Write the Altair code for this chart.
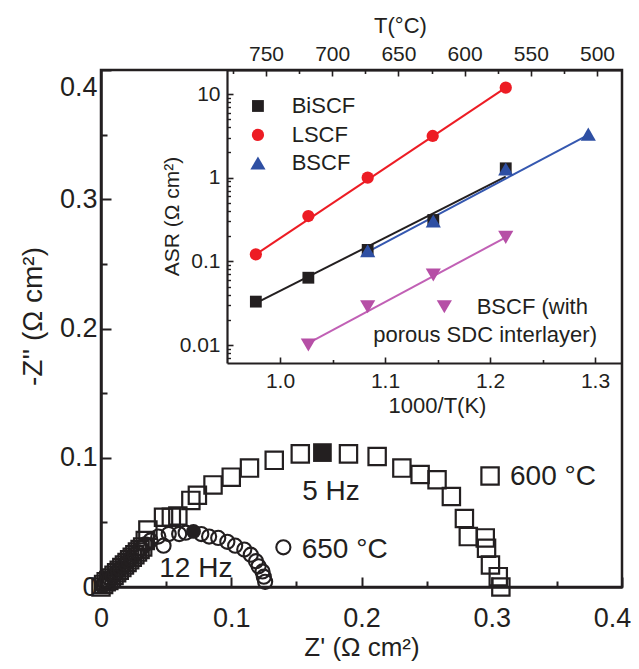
import altair as alt
import pandas as pd

FONT = "Liberation Sans"
INK = "#231f20"

# ---------------- main Nyquist plot ----------------
z600_re = [0.000, 0.002, 0.004, 0.006, 0.008, 0.010, 0.012, 0.014, 0.016, 0.018, 0.020,
           0.022, 0.024, 0.026, 0.028, 0.030, 0.032, 0.034, 0.036,
           0.048, 0.054, 0.059, 0.069, 0.074, 0.086, 0.100, 0.114, 0.133, 0.153,
           0.190, 0.212, 0.231, 0.245, 0.258, 0.269, 0.279, 0.282, 0.295, 0.296,
           0.299, 0.305, 0.307]
z600_im = [0.000, 0.002, 0.004, 0.005, 0.007, 0.009, 0.011, 0.013, 0.015, 0.017, 0.019,
           0.021, 0.023, 0.025, 0.027, 0.029, 0.031, 0.036, 0.044,
           0.054, 0.054, 0.055, 0.067, 0.071, 0.079, 0.085, 0.092, 0.098, 0.103,
           0.103, 0.101, 0.092, 0.087, 0.083, 0.070, 0.053, 0.039, 0.038, 0.030,
           0.017, 0.008, 0.000]
z600_peak_re = [0.170]
z600_peak_im = [0.104]

z650_re = [0.001, 0.002, 0.003, 0.005, 0.007, 0.009, 0.011, 0.013, 0.015, 0.017, 0.019,
           0.021, 0.023, 0.026, 0.028, 0.031, 0.034, 0.038, 0.044, 0.048, 0.052, 0.060,
           0.065, 0.077, 0.083, 0.090, 0.097, 0.103, 0.110, 0.115, 0.119, 0.121, 0.124,
           0.125, 0.126]
z650_im = [0.001, 0.002, 0.003, 0.005, 0.006, 0.008, 0.010, 0.012, 0.014, 0.016, 0.018,
           0.020, 0.022, 0.025, 0.027, 0.030, 0.033, 0.036, 0.039, 0.032, 0.041, 0.041,
           0.042, 0.041, 0.039, 0.038, 0.035, 0.032, 0.029, 0.025, 0.020, 0.016, 0.012,
           0.008, 0.004]
z650_peak_re = [0.071]
z650_peak_im = [0.043]

main_major = [0.0, 0.1, 0.2, 0.3, 0.4]
main_minor = [0.05, 0.15, 0.25, 0.35]

# annotations of the main plot
center_text = ["5 Hz", "12 Hz"]
center_re = [0.1766, 0.0728]
center_im = [0.0673, 0.0080]
left_text = ["650 °C", "600 °C"]
left_re = [0.1541, 0.3140]
left_im = [0.0222, 0.0789]
key600_re, key600_im = [0.2987], [0.0859]
key650_re, key650_im = [0.1400], [0.0307]

# ---------------- inset: ASR vs 1000/T ----------------
series = ["BiSCF", "LSCF", "BSCF", "SDC"]
invT = {
    "BiSCF": [0.977, 1.027, 1.0835, 1.146, 1.215],
    "LSCF": [0.977, 1.027, 1.0835, 1.1454, 1.215],
    "BSCF": [1.0835, 1.146, 1.215, 1.2936],
    "SDC": [1.027, 1.0835, 1.146, 1.215],
}
asr = {
    "BiSCF": [0.0330, 0.0637, 0.137, 0.312, 1.294],
    "LSCF": [0.1213, 0.348, 1.00, 3.15, 11.9],
    "BSCF": [0.134, 0.303, 1.27, 3.32],
    "SDC": [0.0100, 0.0287, 0.0687, 0.1936],
}
fit_invT = {
    "BiSCF": [0.977, 1.215],
    "LSCF": [0.977, 1.215],
    "BSCF": [1.0835, 1.2936],
    "SDC": [1.027, 1.215],
}
fit_asr = {
    "BiSCF": [0.0316, 1.027],
    "LSCF": [0.1213, 11.9],
    "BSCF": [0.130, 3.24],
    "SDC": [0.0105, 0.1936],
}
colors = {"BiSCF": INK, "LSCF": "#ed1c24", "BSCF": "#2e4fa3", "SDC": "#b64fa6"}
line_colors = {"BiSCF": INK, "LSCF": "#ed1c24", "BSCF": "#3558b0", "SDC": "#c160b5"}
shapes = {"BiSCF": "square", "LSCF": "circle", "BSCF": "triangle-up", "SDC": "triangle-down"}
sizes = {"BiSCF": 140, "LSCF": 150, "BSCF": 230, "SDC": 230}

legend_series = ["BiSCF", "LSCF", "BSCF", "SDC"]
legend_mx = [0.979, 0.979, 0.979, 1.1565]
legend_my = [7.19, 3.24, 1.497, 0.0287]
legend_text = ["BiSCF", "LSCF", "BSCF", "BSCF (with", "porous SDC interlayer)"]
legend_tx = [1.0111, 1.0111, 1.0111, 1.1873, 1.0888]
legend_ty = [7.19, 3.24, 1.497, 0.0287, 0.01318]

invT_major = [1.0, 1.1, 1.2, 1.3]
invT_minor = [1.05, 1.15, 1.25]
T_major = [500, 550, 600, 650, 700, 750]
T_minor = [525, 575, 625, 675, 725, 775]
asr_major = [0.01, 0.1, 1, 10]
asr_minor = [0.007, 0.008, 0.009, 0.02, 0.03, 0.04, 0.05, 0.06, 0.07, 0.08, 0.09,
             0.2, 0.3, 0.4, 0.5, 0.6, 0.7, 0.8, 0.9, 2, 3, 4, 5, 6, 7, 8, 9]

# ---------------- geometry ----------------
W, H = 521, 517
IN_X = [126, W]
IN_Y = [293, 0]

main_xs = alt.Scale(domain=[0, 0.4], range=[0, W], nice=False, zero=False)
main_ys = alt.Scale(domain=[0, 0.4], range=[H, 0], nice=False, zero=False)
in_xs = alt.Scale(domain=[0.94952, 1.32571], range=IN_X, nice=False, zero=False)
in_ys = alt.Scale(type="log", domain=[0.006094, 19.36], range=IN_Y, nice=False)
top_xs = alt.Scale(domain=[481.12, 779.46], range=[W, 126], nice=False, zero=False)

# label-carrying axes; their (major) ticks point inward through a negative size expression
ax_main_x = alt.Axis(
    orient="bottom", title="Z' (Ω cm²)", values=main_major, format=".1~f",
    tickSize=alt.ExprRef(expr="-10"), tickWidth=2,
    domainWidth=2.5, labelFontSize=27, labelPadding=49, labelBaseline="alphabetic",
    labelOffset={"condition": {"test": "datum.value > 0.39", "value": -10}, "value": 0},
    titleFontSize=26, titleY=68, titleBaseline="alphabetic",
)
ax_main_y = alt.Axis(
    orient="left", title="-Z'' (Ω cm²)", values=main_major, format=".1~f",
    tickSize=alt.ExprRef(expr="-10"), tickWidth=2,
    domainWidth=2.5, labelFontSize=27, labelPadding=14, labelBaseline="middle",
    labelOffset={"condition": {"test": "datum.value > 0.39", "value": 17}, "value": 0},
    titleFontSize=28, titleX=-60, titleY=246, titleBaseline="alphabetic",
)
ax_in_x = alt.Axis(
    orient="bottom", offset=-(H - IN_Y[0]), title="1000/T(K)", values=invT_major, format=".1f",
    tickSize=alt.ExprRef(expr="-6"), tickWidth=1.6,
    domainWidth=2.2, labelFontSize=21, labelPadding=30, labelBaseline="alphabetic",
    titleFontSize=22, titleX=336, titleY=42, titleBaseline="middle",
)
ax_in_y = alt.Axis(
    orient="left", offset=-IN_X[0], title="ASR (Ω cm²)", values=asr_major, format="~g",
    tickSize=alt.ExprRef(expr="-6"), tickWidth=1.6,
    domainWidth=2.2, labelFontSize=21, labelPadding=13, labelBaseline="middle",
    titleFontSize=21, titleX=-55, titleY=146, titleBaseline="middle",
)
ax_top = alt.Axis(
    orient="top", title="T(°C)", values=T_major, format="d",
    tickSize=alt.ExprRef(expr="-6"), tickWidth=1.6,
    domainWidth=2.2, labelFontSize=21, labelPadding=16, labelBaseline="alphabetic",
    titleFontSize=22, titleX=299, titleY=-45, titleBaseline="middle",
)


def mx(axis=None):
    return alt.X("re:Q", scale=main_xs, axis=axis)


def my(axis=None):
    return alt.Y("im:Q", scale=main_ys, axis=axis)


def ix(axis=None):
    return alt.X("x:Q", scale=in_xs, axis=axis)


def iy(axis=None):
    return alt.Y("y:Q", scale=in_ys, axis=axis)


def tick_layer(channel, scale, values, orient, offset, size, width):
    """Invisible marks carrying an extra axis (opposite side, shifted) whose ticks point inward."""
    axis = alt.Axis(orient=orient, offset=offset, values=values, labels=False,
                    domain=True, domainOpacity=0, ticks=True, tickSize=size, tickWidth=width,
                    tickColor=INK, title=" ", titleOpacity=0, titleFontSize=1, grid=False)
    df = pd.DataFrame({"v": values})
    if channel == "x":
        enc = dict(x=alt.X("v:Q", scale=scale, axis=axis))
    else:
        enc = dict(y=alt.Y("v:Q", scale=scale, axis=axis))
    return alt.Chart(df).mark_point(opacity=0).encode(**enc)


layers = []

# ---------------- main layers ----------------
df600 = pd.DataFrame({"re": z600_re, "im": z600_im})
df650 = pd.DataFrame({"re": z650_re, "im": z650_im})
df600p = pd.DataFrame({"re": z600_peak_re, "im": z600_peak_im})
df650p = pd.DataFrame({"re": z650_peak_re, "im": z650_peak_im})
dfk600 = pd.DataFrame({"re": key600_re, "im": key600_im})
dfk650 = pd.DataFrame({"re": key650_re, "im": key650_im})
dfc = pd.DataFrame({"re": center_re, "im": center_im, "t": center_text})
dfl = pd.DataFrame({"re": left_re, "im": left_im, "t": left_text})

sq_style = dict(shape="square", filled=False, size=300, strokeWidth=2.2, color=INK, opacity=1)
ci_style = dict(shape="circle", filled=False, size=200, strokeWidth=2.1, color=INK, opacity=1)

layers += [
    alt.Chart(df600).mark_point(**sq_style).encode(x=mx(ax_main_x), y=my(ax_main_y)),
    alt.Chart(df650).mark_point(**ci_style).encode(x=mx(), y=my()),
    alt.Chart(df600p).mark_point(shape="square", filled=True, size=350, color=INK, opacity=1).encode(x=mx(), y=my()),
    alt.Chart(df650p).mark_point(shape="circle", filled=True, size=220, color=INK, opacity=1).encode(x=mx(), y=my()),
    alt.Chart(dfk600).mark_point(**sq_style).encode(x=mx(), y=my()),
    alt.Chart(dfk650).mark_point(**ci_style).encode(x=mx(), y=my()),
    alt.Chart(dfc).mark_text(font=FONT, fontSize=28, color=INK, align="center", baseline="alphabetic").encode(
        x=mx(), y=my(), text="t:N"),
    alt.Chart(dfl).mark_text(font=FONT, fontSize=28, color=INK, align="left", baseline="alphabetic").encode(
        x=mx(), y=my(), text="t:N"),
]

# minor inward ticks of the main plot
layers += [
    tick_layer("x", main_xs, main_minor, "top", -H, 6, 2),
    tick_layer("y", main_ys, main_minor, "right", -W, 6, 2),
]

# ---------------- inset layers ----------------
for i, s in enumerate(series):
    d = pd.DataFrame({"x": fit_invT[s], "y": fit_asr[s]})
    enc = dict(x=ix(ax_in_x), y=iy(ax_in_y)) if i == 0 else dict(x=ix(), y=iy())
    layers.append(alt.Chart(d).mark_line(color=line_colors[s], strokeWidth=2).encode(**enc))
for s in series:
    d = pd.DataFrame({"x": invT[s], "y": asr[s]})
    layers.append(
        alt.Chart(d).mark_point(shape=shapes[s], filled=True, size=sizes[s], color=colors[s], opacity=1)
        .encode(x=ix(), y=iy()))
for s, lx, ly in zip(legend_series, legend_mx, legend_my):
    d = pd.DataFrame({"x": [lx], "y": [ly]})
    layers.append(
        alt.Chart(d).mark_point(shape=shapes[s], filled=True, size=sizes[s], color=colors[s], opacity=1)
        .encode(x=ix(), y=iy()))
dft = pd.DataFrame({"x": legend_tx, "y": legend_ty, "t": legend_text})
layers.append(
    alt.Chart(dft).mark_text(font=FONT, fontSize=22, color=INK, align="left", baseline="middle")
    .encode(x=ix(), y=iy(), text="t:N"))

# minor inward ticks of the inset
layers += [
    tick_layer("x", in_xs, invT_minor, "top", -IN_Y[0], 3.5, 1.6),
    tick_layer("y", in_ys, asr_minor, "right", -(W - IN_X[0]), 3.5, 1.4),
]

# ---------------- top temperature axis ----------------
layers.append(
    alt.Chart(pd.DataFrame({"T": T_major})).mark_point(opacity=0).encode(
        x=alt.X("T:Q", scale=top_xs, axis=ax_top)))
layers.append(tick_layer("x", top_xs, T_minor, "bottom", -H, 3.5, 1.6))

chart = (
    alt.layer(*layers)
    .resolve_scale(x="independent", y="independent")
    .resolve_axis(x="independent", y="independent")
    .properties(width=W, height=H, autosize=alt.AutoSizeParams(type="none"),
                padding={"left": 93, "top": 62, "right": 9, "bottom": 74})
    .configure_view(stroke=INK, strokeWidth=2.5)
    .configure_axis(labelFont=FONT, titleFont=FONT, labelColor=INK, titleColor=INK,
                    domainColor=INK, tickColor=INK, titleFontWeight="normal", grid=False,
                    labelOverlap=False, labelFlush=False)
)

chart.save("out.html", embed_options={"renderer": "svg", "actions": False})
